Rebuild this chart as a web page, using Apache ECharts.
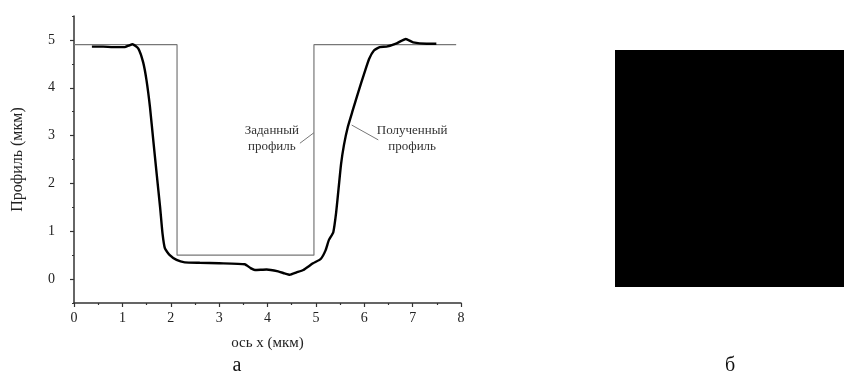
<!DOCTYPE html>
<html>
<head>
<meta charset="utf-8">
<script src="https://cdn.jsdelivr.net/npm/echarts@6/dist/echarts.min.js"></script>
<style>
  html, body { margin: 0; padding: 0; background: #fff; }
  #chart { width: 844px; height: 374px; }
</style>
</head>
<body>
<div id="chart"></div>
<script>
// полученный профиль (мкм)
const measX = [0.37, 0.6, 0.8, 1.05, 1.13, 1.21, 1.33, 1.43, 1.5, 1.57, 1.64, 1.71, 1.78, 1.83, 1.88, 1.98, 2.12, 2.29, 2.6, 3.0, 3.53, 3.65, 3.74, 3.98, 4.22, 4.35, 4.46, 4.6, 4.74, 4.94, 5.1, 5.2, 5.27, 5.36, 5.42, 5.47, 5.52, 5.58, 5.66, 5.76, 5.88, 6.0, 6.1, 6.2, 6.32, 6.46, 6.67, 6.86, 7.01, 7.29, 7.49]
const measY = [4.86, 4.86, 4.85, 4.85, 4.88, 4.91, 4.82, 4.53, 4.15, 3.6, 2.89, 2.19, 1.5, 0.95, 0.64, 0.5, 0.4, 0.35, 0.34, 0.33, 0.31, 0.23, 0.19, 0.2, 0.16, 0.12, 0.09, 0.14, 0.19, 0.33, 0.42, 0.6, 0.82, 0.98, 1.4, 1.9, 2.4, 2.8, 3.18, 3.52, 3.92, 4.3, 4.6, 4.78, 4.85, 4.86, 4.93, 5.02, 4.95, 4.92, 4.92]
// заданный профиль
const stepX = [0, 2.13, 2.13, 4.96, 4.96, 7.9]
const stepY = [4.9, 4.9, 0.5, 0.5, 4.9, 4.9]
// подписи
const yTicks = [0, 1, 2, 3, 4, 5]
const noteText = ['Заданный\nпрофиль', 'Полученный\nпрофиль']
const noteAt = [[4.09, 2.94], [6.99, 2.94]]
const leaderA = [[4.67, 2.84], [4.96, 3.06]]
const leaderB = [[5.74, 3.22], [6.29, 2.91]]

const font = 'Liberation Serif'
const axisColor = '#333'

const zip = (xs, ys) => xs.map((x, i) => [x, ys[i]])

let chart = echarts.init(document.getElementById('chart'))
let option = {
  animation: false,
  textStyle: { fontFamily: font },
  grid: { left: 74, top: 16, width: 387, height: 287 },
  xAxis: {
    type: 'value',
    min: 0,
    max: 8,
    interval: 1,
    name: 'ось х (мкм)',
    nameLocation: 'middle',
    nameGap: 33,
    nameTextStyle: { fontFamily: font, fontSize: 15, color: '#222' },
    axisLine: { onZero: false, lineStyle: { color: axisColor, width: 1.5 } },
    axisTick: { length: 4, lineStyle: { color: axisColor, width: 1.2 } },
    minorTick: { show: true, splitNumber: 2, length: 2, lineStyle: { color: axisColor, width: 1.2 } },
    axisLabel: { margin: 8, fontFamily: font, fontSize: 14, color: '#222' },
    splitLine: { show: false },
    minorSplitLine: { show: false }
  },
  yAxis: [
    {
      type: 'value',
      min: -0.5,
      max: 5.5,
      name: 'Профиль (мкм)',
      nameLocation: 'middle',
      nameGap: 48,
      nameTextStyle: { fontFamily: font, fontSize: 16, color: '#222' },
      axisLine: { show: true, onZero: false, lineStyle: { color: axisColor, width: 1.5 } },
      axisTick: { show: true, length: 4, customValues: yTicks, lineStyle: { color: axisColor, width: 1.2 } },
      axisLabel: { margin: 19, customValues: yTicks, fontFamily: font, fontSize: 14, color: '#222' },
      splitLine: { show: false }
    },
    {
      // малые деления
      type: 'value',
      min: -0.5,
      max: 5.5,
      interval: 0.5,
      position: 'left',
      axisLine: { show: false, onZero: false },
      axisTick: { show: true, length: 2, lineStyle: { color: axisColor, width: 1.2 } },
      axisLabel: { show: false },
      splitLine: { show: false }
    }
  ],
  series: [
    {
      name: 'Заданный профиль',
      type: 'line',
      data: zip(stepX, stepY),
      symbol: 'none',
      lineStyle: { color: '#777', width: 1.2 },
      z: 2
    },
    {
      name: 'Полученный профиль',
      type: 'line',
      data: zip(measX, measY),
      smooth: 0.15,
      symbol: 'none',
      lineStyle: { color: '#000', width: 2.4 },
      z: 3,
      markPoint: {
        symbol: 'circle',
        symbolSize: 0,
        label: {
          show: true,
          position: 'inside',
          fontFamily: font,
          fontSize: 13,
          lineHeight: 16,
          color: '#333',
          align: 'center',
          formatter: p => p.name
        },
        data: noteText.map((t, i) => ({ name: t, coord: noteAt[i] }))
      }
    },
    {
      type: 'line',
      data: leaderA,
      symbol: 'none',
      lineStyle: { color: '#777', width: 1 },
      silent: true
    },
    {
      type: 'line',
      data: leaderB,
      symbol: 'none',
      lineStyle: { color: '#777', width: 1 },
      silent: true
    }
  ],
  graphic: [
    { type: 'rect', shape: { x: 615, y: 50, width: 229, height: 237 }, style: { fill: '#000' } },
    { type: 'text', x: 237, y: 366, style: { text: 'а', font: '20px "Liberation Serif"', fill: '#111', textAlign: 'center', textVerticalAlign: 'middle' } },
    { type: 'text', x: 730, y: 366, style: { text: 'б', font: '20px "Liberation Serif"', fill: '#111', textAlign: 'center', textVerticalAlign: 'middle' } }
  ]
}
chart.setOption(option)
</script>
</body>
</html>
